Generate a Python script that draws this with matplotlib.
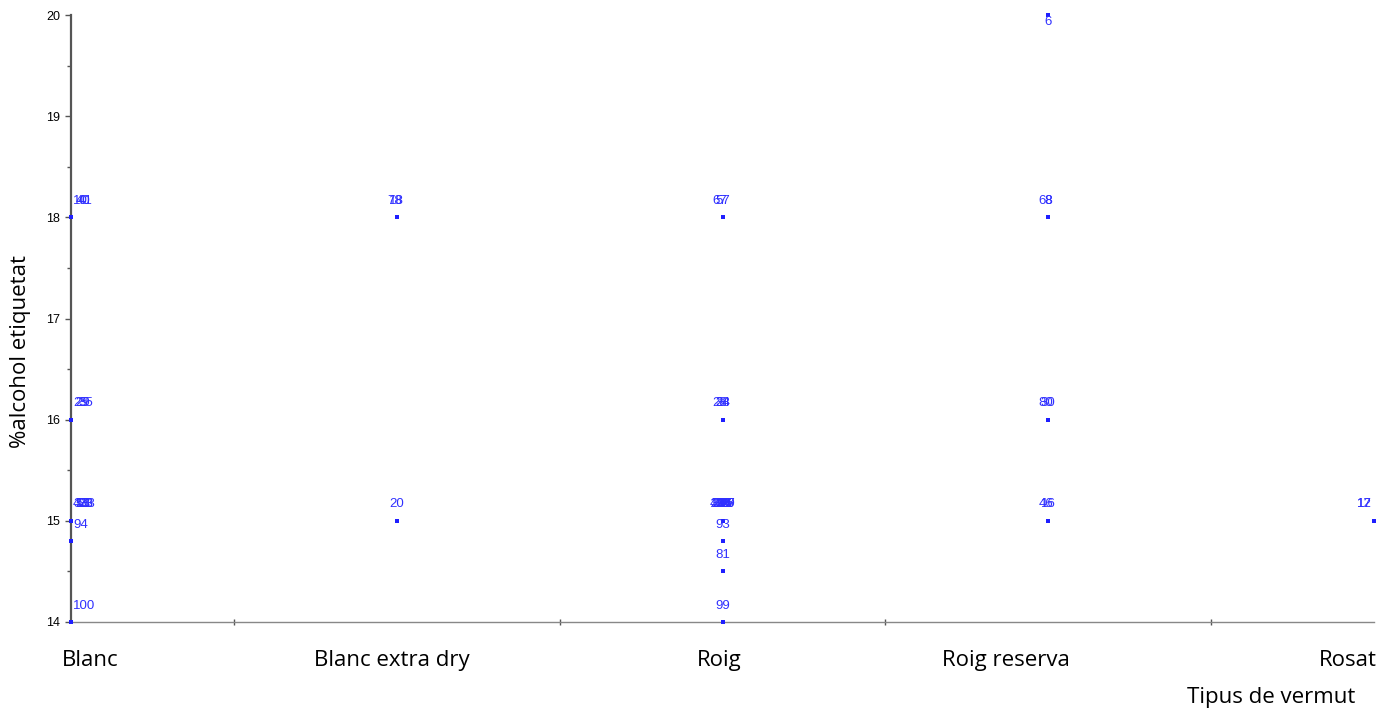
import matplotlib.pyplot as plt
from matplotlib.ticker import MultipleLocator

# categories of vermouth
categories = ['Blanc', 'Blanc extra dry', 'Roig', 'Roig reserva', 'Rosat']

# observations: id, category index, % alcohol on label
obs_id = [10, 40, 41, 25, 29, 35, 3, 13, 23, 33, 43, 53, 73, 94, 100,
          18, 78, 20,
          57, 67, 24, 28, 38, 2, 5, 9, 14, 15, 19, 21, 22, 26, 27, 31, 32,
          36, 37, 39, 42, 93, 81, 99,
          6, 8, 68, 30, 80, 16, 46,
          12, 17]
obs_cat = [0, 0, 0, 0, 0, 0, 0, 0, 0, 0, 0, 0, 0, 0, 0,
           1, 1, 1,
           2, 2, 2, 2, 2, 2, 2, 2, 2, 2, 2, 2, 2, 2, 2, 2, 2,
           2, 2, 2, 2, 2, 2, 2,
           3, 3, 3, 3, 3, 3, 3,
           4, 4]
obs_alc = [18, 18, 18, 16, 16, 16, 15, 15, 15, 15, 15, 15, 15, 14.8, 14,
           18, 18, 15,
           18, 18, 16, 16, 16, 15, 15, 15, 15, 15, 15, 15, 15, 15, 15, 15, 15,
           15, 15, 15, 15, 14.8, 14.5, 14,
           20, 18, 18, 16, 16, 15, 15,
           15, 15]

blue = '#1f1fff'
lab_col = '#3030ff'

fig = plt.figure(figsize=(13.97, 7.15), dpi=100)
ax = fig.add_axes([71 / 1397, 1 - 622 / 715, (1374 - 71) / 1397, (622 - 15) / 715])

ax.scatter(obs_cat, obs_alc, s=7, marker='s', linewidths=0, color=blue,
           zorder=3, clip_on=False)

# labels above each point, small spread where many share the same spot
seen = {}
for i, c, a in zip(obs_id, obs_cat, obs_alc):
    k = seen.get((c, a), 0)
    seen[(c, a)] = k + 1
    dx = ((k % 5) - 2) * 1.8 if k > 0 else 0
    ha = 'center'
    if c == 0:
        ha = 'left'
        dx = 1.5 + (k % 4) * 1.8
    elif c == 4:
        ha = 'right'
        dx = -1.5
    dy = 7.5
    va = 'bottom'
    if a >= 20:
        dy = -1
        va = 'top'
    ax.annotate(str(i), (c, a), xytext=(dx, dy), textcoords='offset points',
                ha=ha, va=va, fontsize=9.5, color=lab_col,
                family='Liberation Sans', annotation_clip=False)

ax.set_xlim(0, 4)
ax.set_ylim(14, 20)
ax.yaxis.set_major_locator(MultipleLocator(1))
ax.yaxis.set_minor_locator(MultipleLocator(0.5))
ax.set_xticks([0.5, 1.5, 2.5, 3.5])
ax.set_xticklabels([])
ax.tick_params(axis='x', length=4, width=1, color='#555555', direction='inout')
ax.tick_params(axis='y', which='major', length=4, width=1, color='#555555',
               labelsize=9, pad=4)
ax.tick_params(axis='y', which='minor', length=3, width=1, color='#555555')
for lab in ax.get_yticklabels():
    lab.set_family('Liberation Sans')

for s in ['top', 'right']:
    ax.spines[s].set_visible(False)
ax.spines['left'].set_color('#555555')
ax.spines['left'].set_linewidth(1.6)
ax.spines['bottom'].set_color('#888888')
ax.spines['bottom'].set_linewidth(1.0)

# category names under the axis
cat_pos = [0.06, 0.985, 1.99, 2.87, 3.92]
for p, name in zip(cat_pos, categories):
    ax.text(p, -0.046, name, transform=ax.get_xaxis_transform(), ha='center',
            va='top', fontsize=16, family='Open Sans', color='black')

ax.set_ylabel('%alcohol etiquetat', fontsize=16, family='Open Sans')
ax.yaxis.set_label_coords(-0.031, 0.445)
fig.text(1355 / 1397, 1 - 697 / 715, 'Tipus de vermut', ha='right', va='center',
         fontsize=16, family='Open Sans')

fig.savefig('out.png', dpi=100)
